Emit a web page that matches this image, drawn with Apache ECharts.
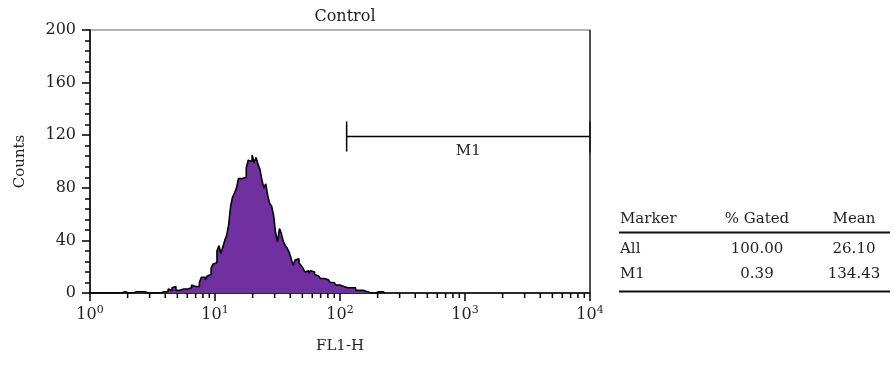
<!DOCTYPE html>
<html>
<head>
<meta charset="utf-8">
<script src="https://cdn.jsdelivr.net/npm/echarts@6/dist/echarts.min.js"></script>
<style>
html,body{margin:0;padding:0;background:#fff;}
#chart{width:895px;height:366px;}
</style>
</head>
<body>
<div id="chart"></div>
<script>
// ---- data ----
const titleText = 'Control';
const xName = 'FL1-H';
const yName = 'Counts';
const channelsPerDecade = 64;           // histogram channel resolution (log scale)
// counts per channel, channel 0 starts at 10^0
const counts = [
  0,0,0,0,0,0,0,0,0,0,0,0,0,0,0,0,0,1,0,0,
  0,0,0,1,0,1,1,1,0,0,0,0,0,0,0,0,0,1,0,1,
  3,2,4,5,2,2,3,3,4,3,4,4,6,5,6,5,8,12,12,10,
  13,14,19,22,23,32,36,30,35,40,44,52,66,73,76,80,87,87,88,88,
  95,101,100,105,99,103,98,94,86,80,83,74,68,66,59,46,39,49,45,39,
  36,34,31,26,21,25,26,23,21,19,16,17,15,17,16,14,13,12,11,11,
  10,10,9,8,8,7,6,6,6,5,4,4,4,4,3,4,2,2,2,2,
  2,1,0,0,0,0,1,1,0,1,0
];
const xDecades = [0, 1, 2, 3, 4];
const xMinorMultipliers = [2, 3, 4, 5, 6, 7, 8, 9];
const yMin = 0, yMax = 200, yInterval = 40;
const markerName = 'M1';
const markerRange = [113, 10000];
const markerLevel = 119;
const tableHeader = ['Marker', '% Gated', 'Mean'];
const tableRows = [
  ['All', '100.00', '26.10'],
  ['M1', '0.39', '134.43']
];

// ---- build ----
const FONT = '"DejaVu Serif", "Liberation Serif", serif';
const TXT = '#231f20';

const histData = counts.map((c, i) => [Math.pow(10, i / channelsPerDecade), c]);
histData.push([Math.pow(10, counts.length / channelsPerDecade), counts[counts.length - 1]]);

const minorTickData = [];
for (let d = 0; d < xDecades.length - 1; d++) {
  xMinorMultipliers.forEach(m => minorTickData.push([m * Math.pow(10, xDecades[d]), 0]));
}

const chart = echarts.init(document.getElementById('chart'));

const colX = [620, 757, 854];
const colAlign = ['left', 'center', 'center'];
const rowY = [219, 249, 274.5];
const graphics = [];
[tableHeader].concat(tableRows).forEach((row, r) => {
  row.forEach((t, c) => {
    graphics.push({
      type: 'text', x: colX[c], y: rowY[r],
      style: { text: t, fontSize: 15, fontFamily: FONT, fill: TXT,
               align: colAlign[c], verticalAlign: 'middle',
               textAlign: colAlign[c], textVerticalAlign: 'middle' }
    });
  });
});
graphics.push({ type: 'line', shape: { x1: 619, y1: 232.5, x2: 890, y2: 232.5 }, style: { stroke: '#111', lineWidth: 2 } });
graphics.push({ type: 'line', shape: { x1: 619, y1: 291.5, x2: 890, y2: 291.5 }, style: { stroke: '#111', lineWidth: 2 } });
// right frame edge (darker than the top edge in the reference)
graphics.push({ type: 'line', shape: { x1: 590, y1: 30, x2: 590, y2: 293 }, style: { stroke: '#222', lineWidth: 1.3 }, z: 10 });

chart.setOption({
  animation: false,
  title: {
    text: titleText, left: 340, top: 4, textAlign: 'center',
    textStyle: { fontFamily: FONT, fontSize: 16, fontWeight: 'normal', color: TXT }
  },
  grid: { left: 90, top: 30, width: 500, height: 263, show: true, borderColor: '#666', borderWidth: 1.2, backgroundColor: 'transparent' },
  xAxis: {
    type: 'log', logBase: 10, min: 1, max: 10000,
    name: xName, nameLocation: 'middle', nameGap: 46,
    nameTextStyle: { fontFamily: FONT, fontSize: 15, color: TXT },
    axisLine: { lineStyle: { color: '#000', width: 1.5 } },
    axisTick: { show: true, length: 8, lineStyle: { color: '#000', width: 1.5 } },
    splitLine: { show: false },
    axisLabel: {
      margin: 12,
      formatter: v => '{b|10}{s|' + Math.round(Math.log10(v)) + '}',
      rich: {
        b: { fontFamily: FONT, fontSize: 16, color: TXT, lineHeight: 20 },
        s: { fontFamily: FONT, fontSize: 11, color: TXT, lineHeight: 11, verticalAlign: 'top' }
      }
    }
  },
  yAxis: {
    type: 'value', min: yMin, max: yMax, interval: yInterval,
    name: yName, nameLocation: 'middle', nameGap: 62, nameRotate: 90,
    nameTextStyle: { fontFamily: FONT, fontSize: 15, color: TXT },
    axisLine: { show: true, lineStyle: { color: '#000', width: 1.5 } },
    axisTick: { show: true, length: 8, lineStyle: { color: '#000', width: 1.5 } },
    minorTick: { show: true, splitNumber: 5, length: 5, lineStyle: { color: '#000', width: 1.5 } },
    splitLine: { show: false },
    axisLabel: { margin: 14, fontFamily: FONT, fontSize: 16, color: TXT }
  },
  graphic: graphics,
  series: [
    {
      type: 'line', step: 'end', data: histData, symbol: 'none',
      lineStyle: { color: '#000', width: 1.6 },
      areaStyle: { color: '#7030A0', opacity: 1 },
      z: 2
    },
    {
      type: 'custom', data: minorTickData, silent: true, clip: false, z: 5,
      renderItem: (params, api) => {
        const p = api.coord([api.value(0), 0]);
        return { type: 'line', shape: { x1: p[0], y1: p[1], x2: p[0], y2: p[1] + 5 },
                 style: { stroke: '#000', lineWidth: 1.5 } };
      }
    },
    {
      type: 'custom', data: [[markerRange[0], markerRange[1], markerLevel]], silent: true, clip: false, z: 5,
      renderItem: (params, api) => {
        const a = api.coord([api.value(0), api.value(2)]);
        const b = api.coord([api.value(1), api.value(2)]);
        const st = { stroke: '#000', lineWidth: 1.5 };
        return { type: 'group', children: [
          { type: 'line', shape: { x1: a[0], y1: a[1], x2: b[0], y2: b[1] }, style: st },
          { type: 'line', shape: { x1: a[0], y1: a[1] - 15, x2: a[0], y2: a[1] + 15 }, style: st },
          { type: 'line', shape: { x1: b[0], y1: b[1] - 15, x2: b[0], y2: b[1] + 16 }, style: st },
          { type: 'text', x: (a[0] + b[0]) / 2, y: a[1] + 7,
            style: { text: markerName, fontFamily: FONT, fontSize: 15, fill: TXT,
                     align: 'center', verticalAlign: 'top', textAlign: 'center', textVerticalAlign: 'top' } }
        ] };
      }
    }
  ]
});
</script>
</body>
</html>
